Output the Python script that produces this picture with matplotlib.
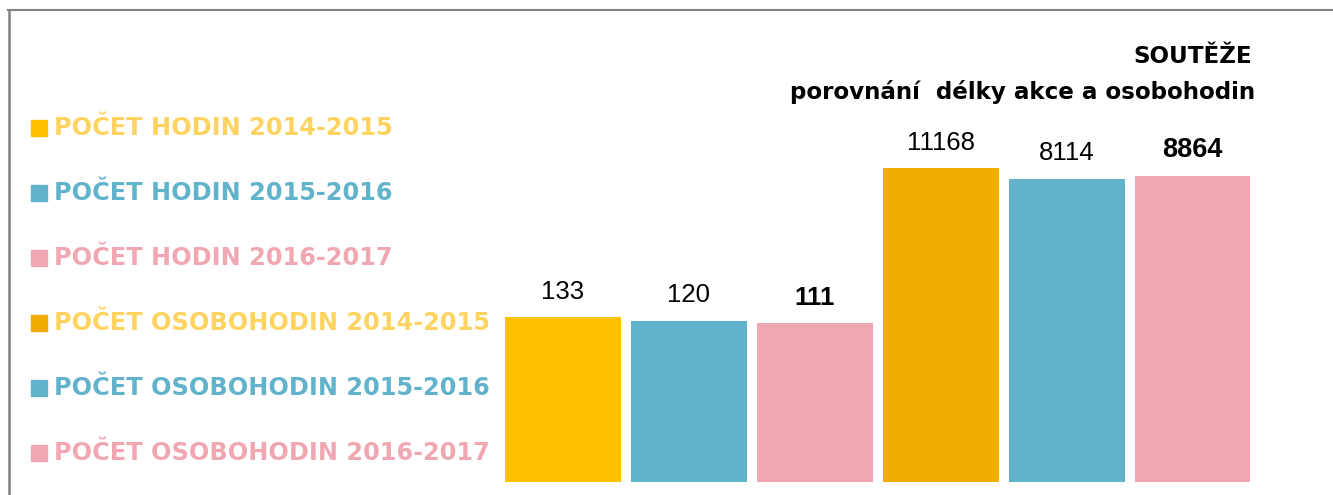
import numpy as np
import matplotlib.pyplot as plt
from matplotlib.patches import Rectangle
from matplotlib.lines import Line2D

# data
labels = ['POČET HODIN 2014-2015', 'POČET HODIN 2015-2016', 'POČET HODIN 2016-2017',
          'POČET OSOBOHODIN 2014-2015', 'POČET OSOBOHODIN 2015-2016', 'POČET OSOBOHODIN 2016-2017']
values = [133, 120, 111, 11168, 8114, 8864]
bold_label = [False, False, True, False, False, True]

bar_colors = ['#FFC000', '#61B3CB', '#F0A7B1', '#F0AC00', '#61B3CB', '#F0A7B1']
text_colors = ['#FFD35F', '#61B3CB', '#F0A7B1', '#FFD35F', '#61B3CB', '#F0A7B1']

W, H = 1333, 495
fig = plt.figure(figsize=(W / 100, H / 100), dpi=100)

# axes: bottom at y=482px, top at y=10px
ax = fig.add_axes([0, 1 - 482 / H, 1, (482 - 10) / H])
x = np.arange(len(values))
ax.bar(x, values, width=0.92, color=bar_colors)
ax.set_yscale('log')
ax.set_ylim(1, 10 ** (472 / 77.5))
ax.set_xlim(-563 / 125.9, (W - 563) / 125.9)
ax.axis('off')

for xi, v, b in zip(x, values, bold_label):
    ax.annotate(str(v), (xi, v), xytext=(0, 18.5), textcoords='offset points',
                ha='center', va='center', fontsize=18.5 if not (b and v > 1000) else 19.5,
                fontweight='bold' if b else 'normal', family='Liberation Sans',
                color='black')

# legend drawn by hand
for i, (lab, bc, tc) in enumerate(zip(labels, bar_colors, text_colors)):
    yc = 128 + i * 65
    fig.patches.append(Rectangle((31 / W, 1 - (yc + 8) / H), 16 / W, 16 / H,
                                 transform=fig.transFigure, color=bc, figure=fig))
    fig.text(54 / W, 1 - yc / H, lab, color=tc, fontsize=17.3, fontweight='bold',
             ha='left', va='center', family='DejaVu Sans')

# title
fig.text(1252 / W, 1 - 56 / H, 'SOUTĚŽE', ha='right', va='center', fontsize=16.6,
         fontweight='bold', family='DejaVu Sans')
fig.text(1255 / W, 1 - 92 / H, 'porovnání  délky akce a osobohodin', ha='right', va='center',
         fontsize=16.6, fontweight='bold', family='DejaVu Sans')

# frame lines
fig.lines.append(Line2D([8 / W, 1], [1 - 10 / H, 1 - 10 / H], transform=fig.transFigure,
                        color='#808080', lw=1.5))
fig.lines.append(Line2D([8.5 / W, 8.5 / W], [0, 1 - 10 / H], transform=fig.transFigure,
                        color='#808080', lw=1.8))

fig.savefig('out.png', dpi=100)
